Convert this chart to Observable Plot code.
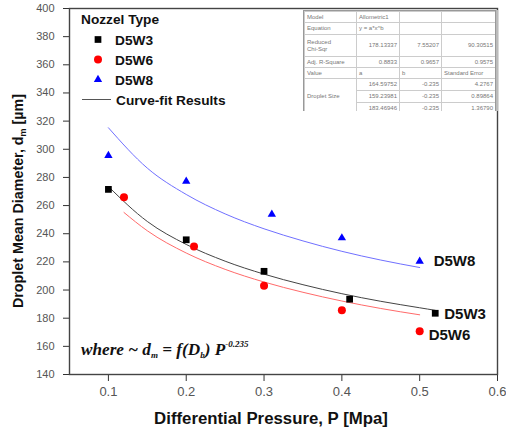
<!DOCTYPE html>
<html>
<head>
<meta charset="utf-8">
<script src="https://cdn.jsdelivr.net/npm/d3@7"></script>
<script src="https://cdn.jsdelivr.net/npm/@observablehq/plot@0.6"></script>
<style>
  body { margin: 0; background: #fff; }
  #wrap { position: relative; width: 506px; height: 433px; font-family: "Liberation Sans", Arial, sans-serif; }
  #tbl { position: absolute; left: 303px; top: 10px; width: 191px; height: 100px; overflow: hidden; background: #fff;
         border: 1px solid #999; border-bottom: none; box-shadow: 2px 0 0 #bbb; }
  #tbl table { border-collapse: collapse; font-size: 6px; color: #777; table-layout: fixed; width: 191px; }
  #tbl td { border: 1px solid #ccc; padding: 0 2px; line-height: 7px; vertical-align: middle; white-space: nowrap; overflow: hidden; }
  #tbl td.n { text-align: right; }
</style>
</head>
<body>
<div id="wrap"></div>
<script>
// ---- data ----
const series = ["D5W3", "D5W6", "D5W8"];
const colors = ["#000000", "#ff0000", "#0000ff"];
const fitColors = ["#444444", "#ff6a6a", "#7070ff"];

const ptX_D5W3 = [0.10, 0.20, 0.30, 0.41, 0.52];
const ptY_D5W3 = [271.5, 235.7, 213.3, 193.5, 183.5];
const ptX_D5W6 = [0.12, 0.21, 0.30, 0.40, 0.50];
const ptY_D5W6 = [266.0, 231.0, 203.0, 185.6, 170.7];
const ptX_D5W8 = [0.10, 0.20, 0.31, 0.40, 0.50];
const ptY_D5W8 = [295.5, 277.3, 253.7, 237.0, 220.4];

const fitX_D5W3 = [0.10, 0.15, 0.20, 0.25, 0.30, 0.35, 0.40, 0.45, 0.50, 0.52];
const fitY_D5W3 = [273.5, 248.7, 232.4, 220.5, 211.3, 203.8, 197.4, 192.0, 187.4, 185.6];
const fitX_D5W6 = [0.12, 0.15, 0.20, 0.25, 0.30, 0.35, 0.40, 0.45, 0.50];
const fitY_D5W6 = [255.1, 242.1, 226.3, 214.7, 205.7, 198.4, 192.2, 186.9, 182.4];
const fitX_D5W8 = [0.10, 0.15, 0.20, 0.25, 0.30, 0.35, 0.40, 0.45, 0.50];
const fitY_D5W8 = [315.3, 286.6, 267.9, 254.1, 243.5, 234.9, 227.5, 221.3, 216.0];

const xTicks = [0.1, 0.2, 0.3, 0.4, 0.5, 0.6];
const yTicks = [140, 160, 180, 200, 220, 240, 260, 280, 300, 320, 340, 360, 380, 400];

const tableRows = [
  ["Model", "Allometric1", "", ""],
  ["Equation", "y = a*x^b", "", ""],
  ["Reduced Chi-Sqr", "178.13337", "7.55207", "90.30515"],
  ["Adj. R-Square", "0.8833", "0.9657", "0.9575"],
  ["Value", "a", "b", "Standard Error"],
  ["Droplet Size", "164.59752", "-0.235", "4.2767"],
  ["", "159.23981", "-0.235", "0.89864"],
  ["", "183.46946", "-0.235", "1.36790"]
];

// ---- build tables ----
const ptsX = {D5W3: ptX_D5W3, D5W6: ptX_D5W6, D5W8: ptX_D5W8};
const ptsY = {D5W3: ptY_D5W3, D5W6: ptY_D5W6, D5W8: ptY_D5W8};
const fX = {D5W3: fitX_D5W3, D5W6: fitX_D5W6, D5W8: fitX_D5W8};
const fY = {D5W3: fitY_D5W3, D5W6: fitY_D5W6, D5W8: fitY_D5W8};
const points = series.flatMap(s => ptsX[s].map((x, i) => ({s, x, y: ptsY[s][i]})));
const fits = series.flatMap(s => fX[s].map((x, i) => ({s, x, y: fY[s][i]})));
const lastPts = series.map(s => ({s, x: ptsX[s][ptsX[s].length - 1], y: ptsY[s][ptsY[s].length - 1]}));

const labelOffsets = {D5W3: [9, 1], D5W6: [9, 4], D5W8: [14, 0]};

const chart = Plot.plot({
  width: 506, height: 433,
  marginLeft: 69, marginRight: 9, marginTop: 8, marginBottom: 59,
  style: {fontFamily: "'Liberation Sans', Arial, sans-serif", fontSize: "11px", background: "#fff"},
  x: {domain: [0.05, 0.6]},
  y: {domain: [140, 400]},
  marks: [
    Plot.axisY({ticks: yTicks, tickSize: 6, tickPadding: 9, label: null, fontSize: 11, stroke: "#333"}),
    Plot.axisX({ticks: xTicks, tickSize: 7, tickPadding: 5, label: null, fontSize: 13, tickFormat: d => d.toFixed(1), stroke: "#333"}),
    ...series.map((s, i) => Plot.line(fits.filter(d => d.s === s), {x: "x", y: "y", stroke: fitColors[i], strokeWidth: 1, curve: "monotone-x"})),
    Plot.dot(points.filter(d => d.s === "D5W3"), {x: "x", y: "y", symbol: "square", r: 3.8, fill: colors[0]}),
    Plot.dot(points.filter(d => d.s === "D5W6"), {x: "x", y: "y", symbol: "circle", r: 4, fill: colors[1]}),
    Plot.dot(points.filter(d => d.s === "D5W8"), {x: "x", y: "y", symbol: "triangle", r: 3.1, fill: colors[2]}),
    ...series.map(s => Plot.text(lastPts.filter(d => d.s === s), {x: "x", y: "y", text: "s", textAnchor: "start",
      dx: labelOffsets[s][0], dy: labelOffsets[s][1], fontWeight: "bold", fontSize: 15, fill: "#111"})),
    Plot.frame({stroke: "#444", strokeWidth: 1.4})
  ]
});

const wrap = document.getElementById("wrap");
wrap.appendChild(chart);
const svg = d3.select(chart);
svg.selectAll('g[aria-label="x-axis tick label"] text, g[aria-label="y-axis tick label"] text').attr("fill", "#555");

// axis titles
svg.append("text").attr("x", 271).attr("y", 424).attr("text-anchor", "middle")
  .attr("font-size", 16.8).attr("font-weight", "bold").attr("fill", "#111")
  .text("Differential Pressure, P [Mpa]");
const yt = svg.append("text").attr("transform", "translate(23,201) rotate(-90)").attr("text-anchor", "middle")
  .attr("font-size", 14.3).attr("font-weight", "bold").attr("fill", "#111");
yt.append("tspan").text("Droplet Mean Diameter, d");
yt.append("tspan").attr("font-size", 9).attr("dy", 3).text("m");
yt.append("tspan").attr("dy", -3).text(" [\u00b5m]");

// legend
const lg = svg.append("g").attr("font-weight", "bold").attr("fill", "#111").attr("font-size", 13.7).attr("text-anchor", "start");
lg.append("text").attr("x", 81).attr("y", 23.5).text("Nozzel Type");
const legendSymbols = [d3.symbolSquare, d3.symbolCircle, d3.symbolTriangle];
const legendSizes = [45, 50, 30];
series.forEach((s, i) => {
  const cy = 39.5 + i * 20;
  lg.append("path").attr("transform", `translate(98,${cy})`)
    .attr("d", d3.symbol(legendSymbols[i], legendSizes[i])()).attr("fill", colors[i]);
  lg.append("text").attr("x", 115).attr("y", cy + 5).text(s);
});
lg.append("line").attr("x1", 82).attr("x2", 111).attr("y1", 99.5).attr("y2", 99.5).attr("stroke", "#555").attr("stroke-width", 1);
lg.append("text").attr("x", 116).attr("y", 104.5).text("Curve-fit Results");

// equation note
const eq = svg.append("text").attr("x", 81).attr("y", 355).attr("text-anchor", "start")
  .attr("font-family", "'Liberation Serif', 'Times New Roman', serif").attr("font-style", "italic")
  .attr("font-weight", "bold").attr("font-size", 17.2).attr("fill", "#111");
eq.append("tspan").text("where ~ d");
eq.append("tspan").attr("font-size", 9).attr("dy", 3).text("m");
eq.append("tspan").attr("dy", -3).text(" = f(D");
eq.append("tspan").attr("font-size", 9).attr("dy", 3).text("b");
eq.append("tspan").attr("dy", -3).text(") P");
eq.append("tspan").attr("font-size", 9).attr("dy", -8).text("-0.235");

// fit-statistics table
const tdiv = document.createElement("div");
tdiv.id = "tbl";
const widths = [52, 43, 42, 54];
const heights = [11, 12, 22, 11, 11, 12, 12, 12];
let html = "<table><colgroup>" + widths.map(w => `<col style="width:${w}px">`).join("") + "</colgroup>";
tableRows.forEach((r, ri) => {
  html += `<tr style="height:${heights[ri]}px">`;
  r.forEach((c, ci) => {
    if (ri === 5 && ci === 0) { html += `<td rowspan="3">${c}</td>`; return; }
    if (ri > 5 && ci === 0) return;
    const numeric = ci > 0 && /^-?[0-9.]+$/.test(c);
    const label = ri === 2 && ci === 0 ? "Reduced<br>Chi-Sqr" : c;
    html += `<td class="${numeric ? "n" : ""}">${label}</td>`;
  });
  html += "</tr>";
});
html += "</table>";
tdiv.innerHTML = html;
wrap.appendChild(tdiv);
</script>
</body>
</html>
